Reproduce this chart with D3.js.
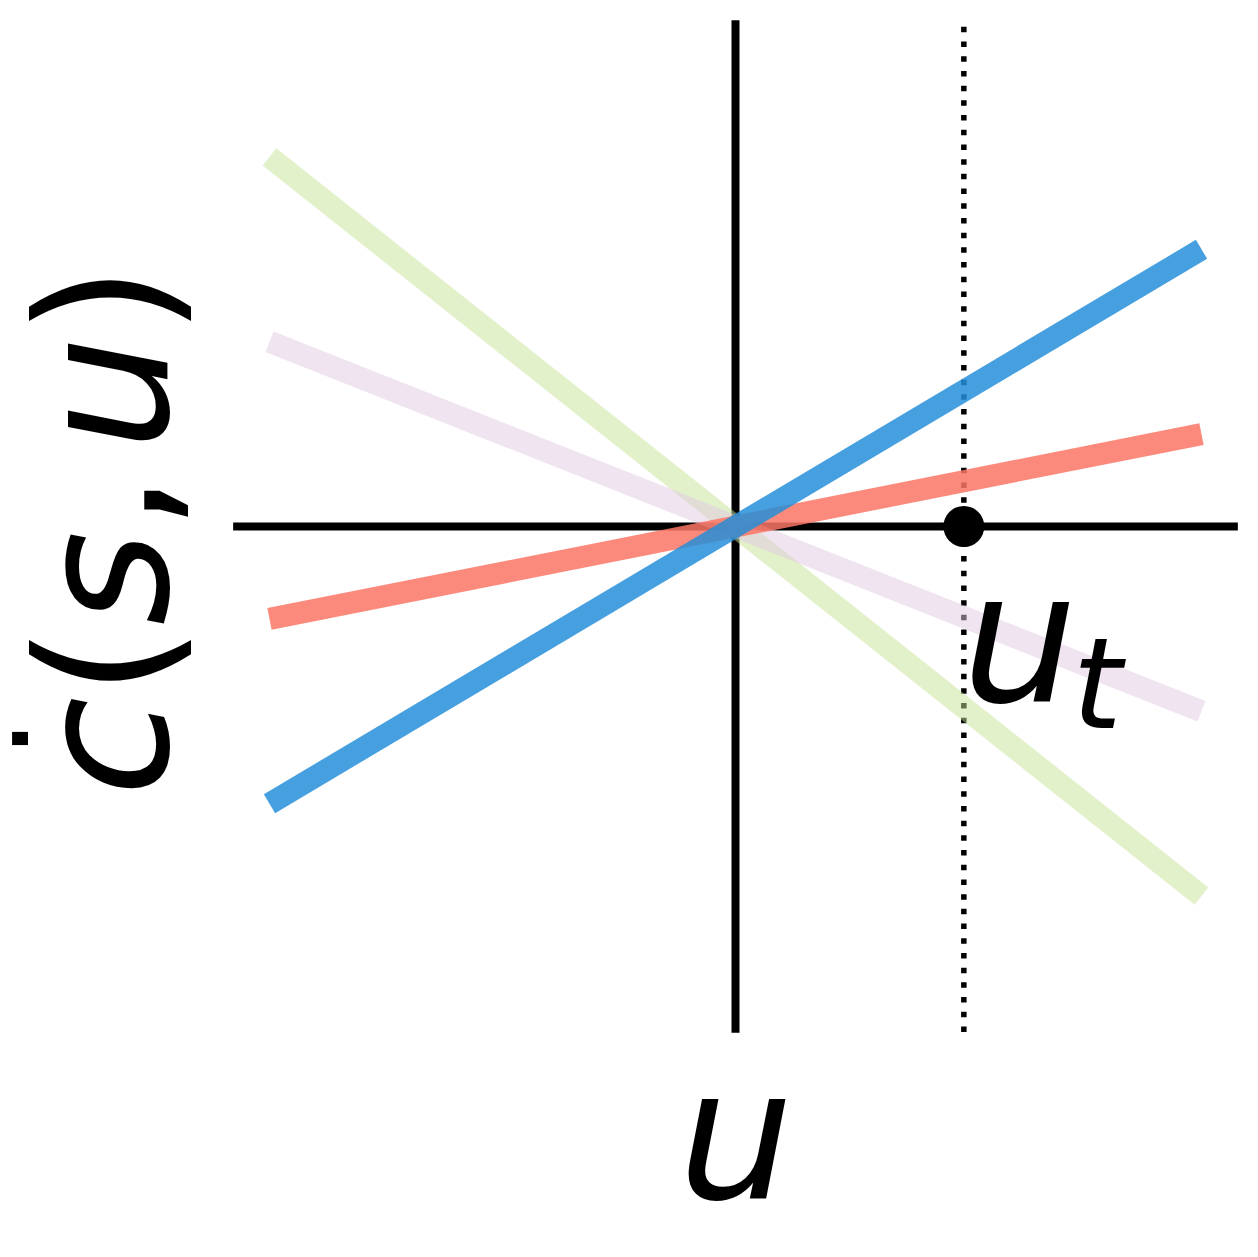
<!DOCTYPE html>
<html>
<head>
<meta charset="utf-8">
<script src="https://cdn.jsdelivr.net/npm/d3@7/dist/d3.min.js"></script>
<style>
  html, body { margin: 0; padding: 0; background: #fff; }
  svg { display: block; }
  text { font-family: "DejaVu Sans", sans-serif; fill: #000; }
</style>
</head>
<body>
<svg id="chart" width="1258" height="1257"></svg>
<script>
// ---- data ----
const uDomain = [-1, 1];              // u at left / right ends of each line
const seriesNames = ["green", "purple", "red", "blue"];
const seriesValues = [                 // c-dot at u = -1 and u = +1
  [0.8, -0.8],
  [0.4, -0.4],
  [-0.2, 0.2],
  [-0.6, 0.6]
];
const seriesColors = ["#c7e397", "#dfc9e1", "#fb7565", "#268ed8"];
const seriesOpacity = [0.5, 0.5, 0.85, 0.85];
const uThreshold = 0.49;
const xAxisExtent = [-1.078, 1.078];
const yAxisExtent = [-1.096, 1.096];

// ---- scales ----
const svg = d3.select("#chart");
const x = d3.scaleLinear().domain([-1, 1]).range([269.5, 1201.5]);
const y = d3.scaleLinear().domain([-1, 1]).range([988.5, 64.5]);

// axes lines
svg.append("line")
  .attr("x1", x(xAxisExtent[0])).attr("x2", x(xAxisExtent[1]))
  .attr("y1", y(0)).attr("y2", y(0))
  .attr("stroke", "#000").attr("stroke-width", 8);
svg.append("line")
  .attr("x1", x(0)).attr("x2", x(0))
  .attr("y1", y(yAxisExtent[1])).attr("y2", y(yAxisExtent[0]))
  .attr("stroke", "#000").attr("stroke-width", 8);

// dotted threshold line
svg.append("line")
  .attr("x1", x(uThreshold)).attr("x2", x(uThreshold))
  .attr("y1", y(yAxisExtent[1]) + 6.7).attr("y2", y(yAxisExtent[0]) + 3)
  .attr("stroke", "#000").attr("stroke-width", 5.5)
  .attr("stroke-dasharray", "5.5,9.2");

// series lines
const line = d3.line().x(d => x(d[0])).y(d => y(d[1]));
seriesValues.forEach((vals, i) => {
  const pts = uDomain.map((u, j) => [u, vals[j]]);
  svg.append("path")
    .attr("class", "series " + seriesNames[i])
    .attr("d", line(pts))
    .attr("fill", "none")
    .attr("stroke", seriesColors[i])
    .attr("stroke-opacity", seriesOpacity[i])
    .attr("stroke-width", 22)
    .attr("stroke-linecap", "butt");
});

// threshold marker
svg.append("circle")
  .attr("cx", x(uThreshold)).attr("cy", y(0)).attr("r", 20.5)
  .attr("fill", "#000");

// u_t label
const ut = svg.append("text")
  .attr("x", 962).attr("y", 701)
  .attr("font-size", 182);
ut.append("tspan").attr("font-style", "italic").text("u");
ut.append("tspan").attr("font-style", "italic").attr("font-size", 127).attr("dy", 27).attr("dx", -5).text("t");

// x label
svg.append("text")
  .attr("x", 736).attr("y", 1198)
  .attr("text-anchor", "middle")
  .attr("font-size", 182)
  .attr("font-style", "italic")
  .text("u");

// y label (rotated)
const gy = svg.append("g").attr("transform", "translate(167,530.5) rotate(-90)");
const yl = gy.append("text")
  .attr("x", 0).attr("y", 0)
  .attr("text-anchor", "middle")
  .attr("font-size", 182);
yl.append("tspan").attr("font-style", "italic").text("c");
yl.append("tspan").text("(");
yl.append("tspan").attr("font-style", "italic").text("s");
yl.append("tspan").text(",");
yl.append("tspan").attr("font-style", "italic").attr("dx", 22).text("u");
yl.append("tspan").text(")");

// dot accent over c (screen centre ~ (18, 738.5))
gy.append("text")
  .attr("font-size", 128)
  .attr("text-anchor", "middle")
  .attr("x", -(738.5 - 530.5))
  .attr("y", 28 - 167)
  .text(".");
</script>
</body>
</html>
